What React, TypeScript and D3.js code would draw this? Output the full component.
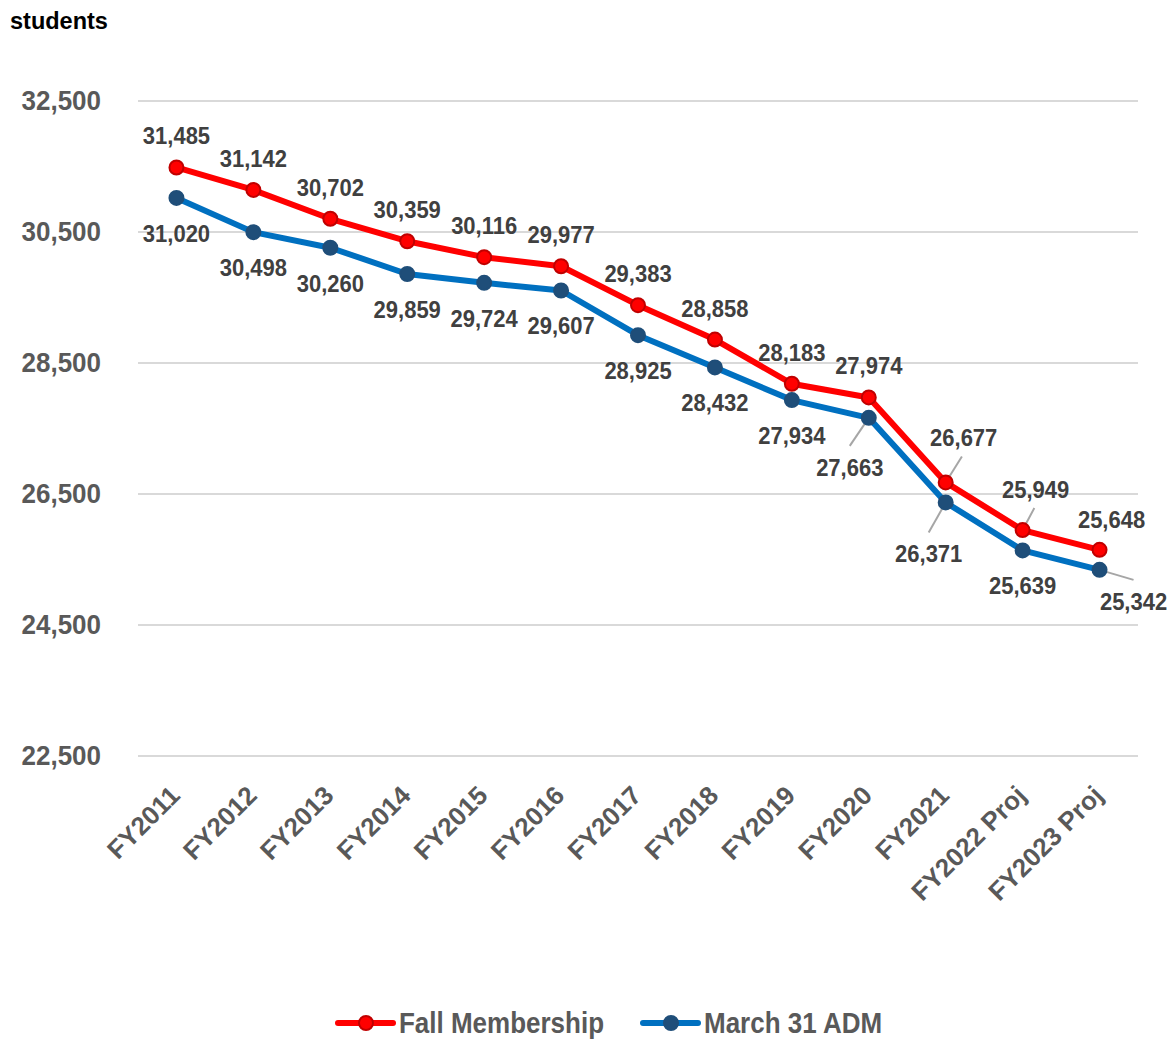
import * as d3 from "d3";
import React, { useEffect, useRef } from "react";

const years = [
  "FY2011", "FY2012", "FY2013", "FY2014", "FY2015", "FY2016", "FY2017",
  "FY2018", "FY2019", "FY2020", "FY2021", "FY2022 Proj", "FY2023 Proj",
];
const fallMembership = [
  31485, 31142, 30702, 30359, 30116, 29977, 29383, 28858, 28183, 27974, 26677, 25949, 25648,
];
const march31Adm = [
  31020, 30498, 30260, 29859, 29724, 29607, 28925, 28432, 27934, 27663, 26371, 25639, 25342,
];
const yTicks = [22500, 24500, 26500, 28500, 30500, 32500];

// labels that Excel pushed away from the marker, with a leader line
const fallMoved: Record<number, [number, number]> = { 10: [18, -36], 11: [13, -32], 12: [12, -22] };
const admMoved: Record<number, [number, number]> = { 9: [-19, 58], 10: [-17, 60], 12: [34, 40] };
const fallLeaders = [10, 11];
const admLeaders = [9, 10, 12];

const FONT = "'Liberation Sans', Arial, sans-serif";

const App: React.FC = () => {
  const svgRef = useRef<SVGSVGElement | null>(null);

  useEffect(() => {
    if (!svgRef.current) return;
    const svg = d3.select(svgRef.current);
    svg.selectAll("*").remove();

    const left = 138, right = 1138, top = 101, bottom = 756;

    const x = d3.scalePoint<string>().domain(years).range([left, right]).padding(0.5);
    const y = d3.scaleLinear().domain([22500, 32500]).range([bottom, top]);
    const fmt = d3.format(",");

    // title
    svg.append("text")
      .attr("x", 10).attr("y", 29)
      .attr("font-family", FONT).attr("font-weight", "bold").attr("font-size", 23.5)
      .attr("fill", "#000").text("students");

    // gridlines + y labels
    const g = svg.append("g");
    g.selectAll(".grid").data(yTicks).enter().append("line")
      .attr("x1", left).attr("x2", right)
      .attr("y1", (d) => y(d)).attr("y2", (d) => y(d))
      .attr("stroke", "#D9D9D9").attr("stroke-width", 2);
    g.selectAll(".ylab").data(yTicks).enter().append("text")
      .attr("transform", (d) => `translate(101,${y(d) + 9}) scale(1,1.05)`)
      .attr("text-anchor", "end")
      .attr("font-family", FONT).attr("font-weight", "bold").attr("font-size", 26)
      .attr("fill", "#595959").text((d) => fmt(d));

    // x labels
    g.selectAll(".xlab").data(years).enter().append("text")
      .attr("transform", (d) => `translate(${(x(d) as number) + 5},797) rotate(-45)`)
      .attr("text-anchor", "end")
      .attr("font-family", FONT).attr("font-weight", "bold").attr("font-size", 26)
      .attr("fill", "#595959").text((d) => d);

    const series = [
      { values: fallMembership, line: "#FF0000", fill: "#FF0000", stroke: "#C00000", moved: fallMoved, leaders: fallLeaders, below: false },
      { values: march31Adm, line: "#0070C0", fill: "#1F4E79", stroke: "#1F4E79", moved: admMoved, leaders: admLeaders, below: true },
    ];

    const line = d3.line<number>()
      .x((_, i) => x(years[i]) as number)
      .y((d) => y(d));

    series.forEach((s) => {
      svg.append("path").datum(s.values)
        .attr("fill", "none").attr("stroke", s.line).attr("stroke-width", 6)
        .attr("stroke-linejoin", "round").attr("d", line);
    });

    // leader lines (under markers)
    series.forEach((s) => {
      svg.selectAll(null).data(s.leaders).enter().append("line")
        .attr("x1", (i) => x(years[i]) as number)
        .attr("y1", (i) => y(s.values[i]))
        .attr("x2", (i) => (x(years[i]) as number) + s.moved[i][0] * (s.below ? 1 : 0.9))
        .attr("y2", (i) => y(s.values[i]) + (s.below ? s.moved[i][1] - 30 : s.moved[i][1] + 10))
        .attr("stroke", "#A6A6A6").attr("stroke-width", 2);
    });

    series.forEach((s) => {
      svg.selectAll(null).data(s.values).enter().append("circle")
        .attr("cx", (_, i) => x(years[i]) as number)
        .attr("cy", (d) => y(d))
        .attr("r", 7)
        .attr("fill", s.fill).attr("stroke", s.stroke).attr("stroke-width", 2);
    });

    // data labels
    series.forEach((s) => {
      svg.selectAll(null).data(s.values).enter().append("text")
        .attr("transform", (d, i) => {
          const [dx, dy] = s.moved[i] ?? [0, s.below ? 44 : -23];
          return `translate(${(x(years[i]) as number) + dx},${y(d) + dy}) scale(1,1.1)`;
        })
        .attr("text-anchor", "middle")
        .attr("font-family", FONT).attr("font-weight", "bold").attr("font-size", 22)
        .attr("fill", "#404040").text((d) => fmt(d));
    });

    // legend
    const legend = [
      { name: "Fall Membership", x0: 338, line: "#FF0000", fill: "#FF0000", stroke: "#C00000" },
      { name: "March 31 ADM", x0: 643, line: "#0070C0", fill: "#1F4E79", stroke: "#1F4E79" },
    ];
    const lg = svg.append("g").selectAll("g").data(legend).enter().append("g")
      .attr("transform", (d) => `translate(${d.x0},1023)`);
    lg.append("line").attr("x1", 0).attr("x2", 55).attr("y1", 0).attr("y2", 0)
      .attr("stroke", (d) => d.line).attr("stroke-width", 6).attr("stroke-linecap", "round");
    lg.append("circle").attr("cx", 28).attr("cy", 0).attr("r", 7)
      .attr("fill", (d) => d.fill).attr("stroke", (d) => d.stroke).attr("stroke-width", 2);
    lg.append("text")
      .attr("transform", "translate(61,10) scale(1,1.15)")
      .attr("font-family", FONT).attr("font-weight", "bold").attr("font-size", 26)
      .attr("fill", "#595959").text((d) => d.name);
  }, []);

  return (
    <div style={{ position: "absolute", left: 0, top: 0 }}>
      <svg ref={svgRef} width={1174} height={1040} style={{ display: "block" }}></svg>
    </div>
  );
};

export default App;
